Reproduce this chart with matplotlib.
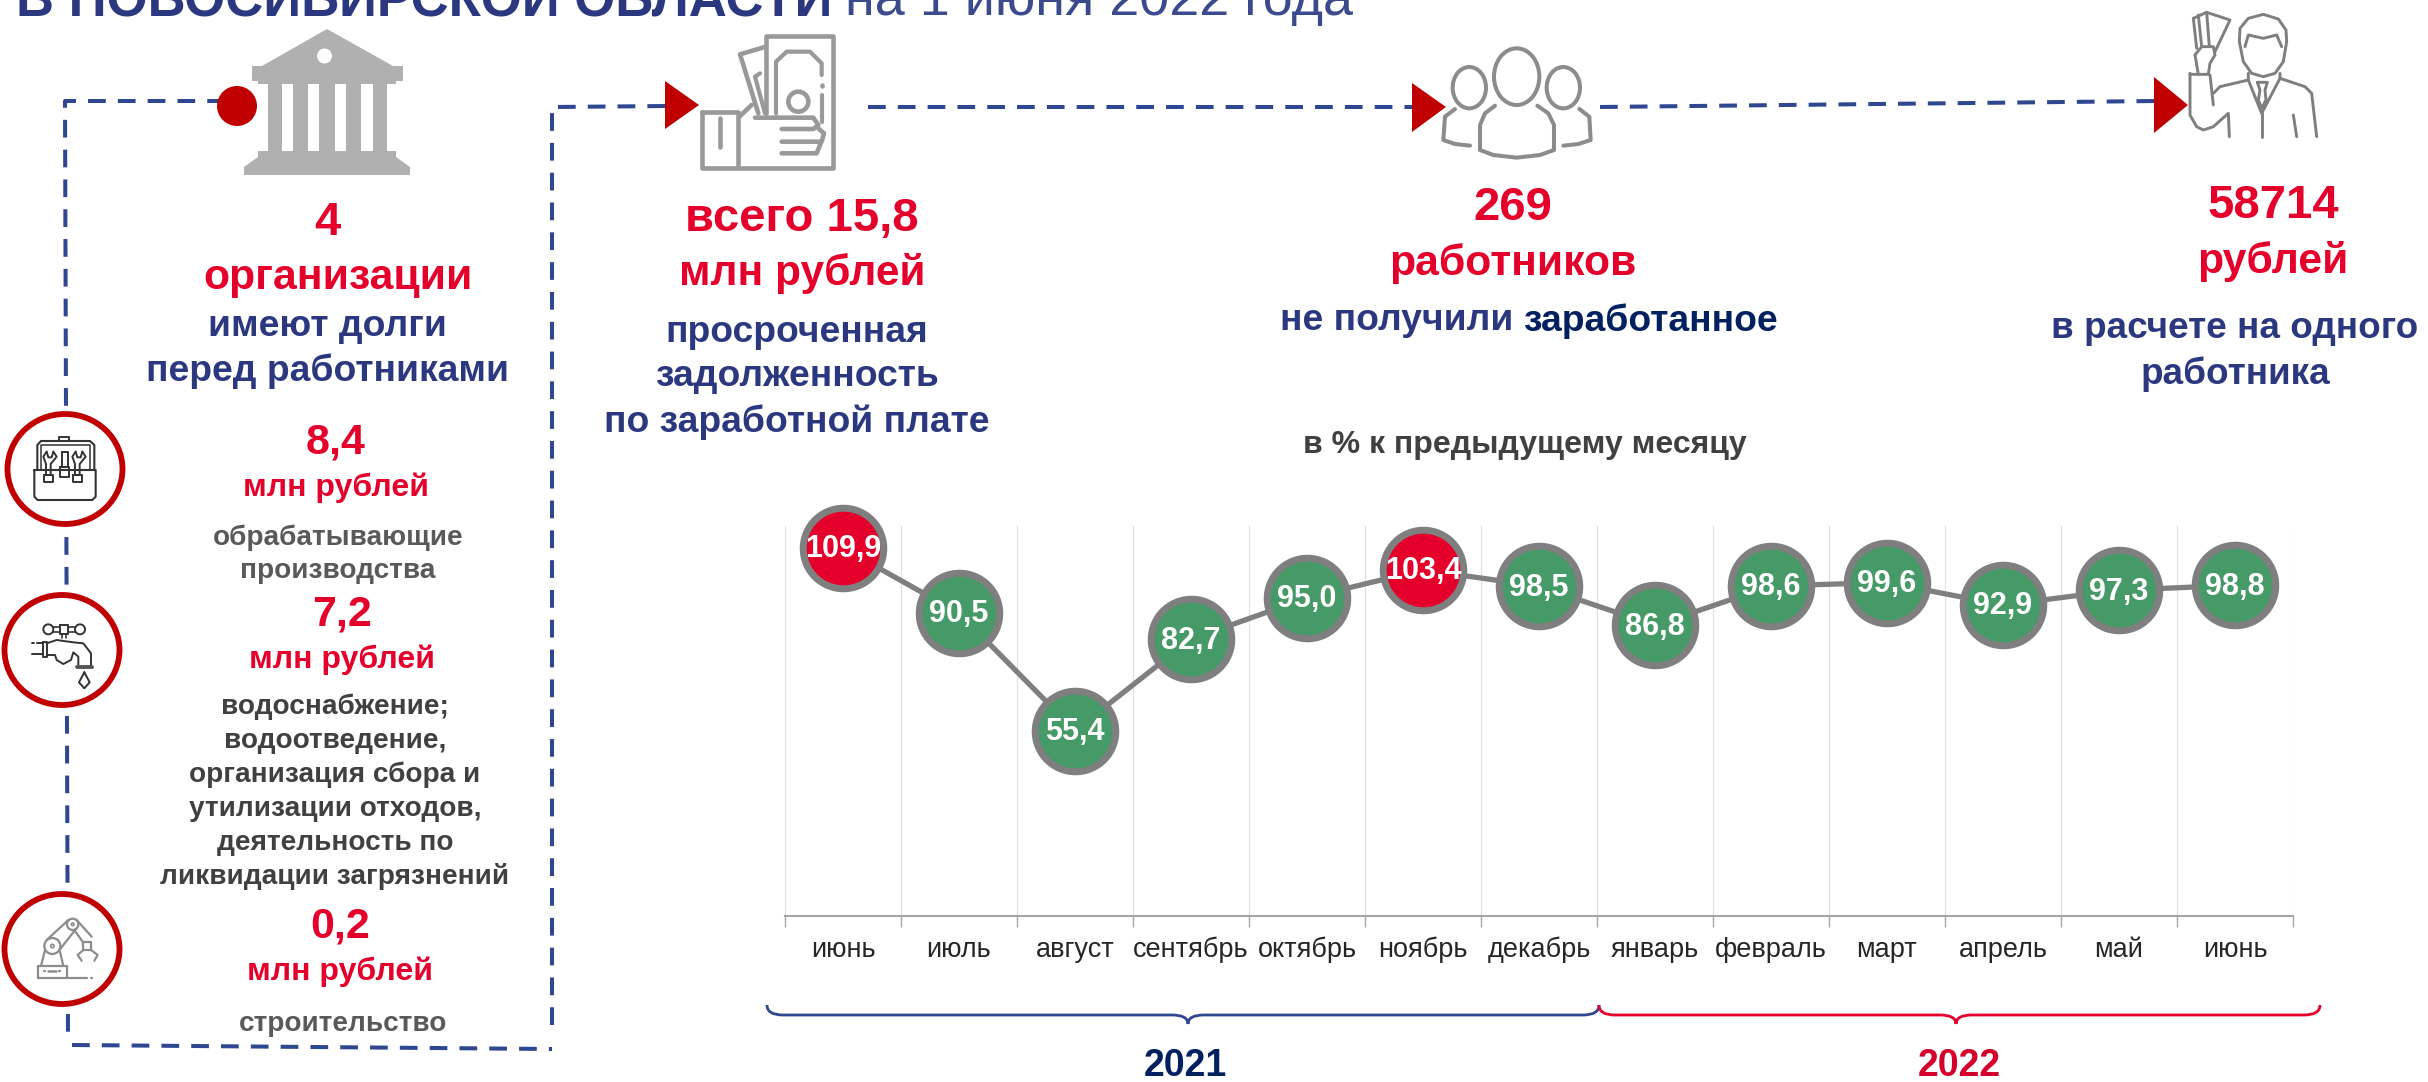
import matplotlib
matplotlib.use('Agg')
import matplotlib.pyplot as plt
from matplotlib.patches import Ellipse, Polygon, Rectangle, PathPatch
from matplotlib.path import Path

plt.rcParams['font.family'] = ['Liberation Sans', 'DejaVu Sans']

months = ['июнь', 'июль', 'август', 'сентябрь', 'октябрь', 'ноябрь', 'декабрь',
          'январь', 'февраль', 'март', 'апрель', 'май', 'июнь']
values = [109.9, 90.5, 55.4, 82.7, 95.0, 103.4, 98.5, 86.8, 98.6, 99.6, 92.9, 97.3, 98.8]
years = ['2021', '2022']

RED = '#e4002b'
DARKRED = '#c00000'
GREEN = '#459a68'
BLUE = '#2b3880'
NAVY = '#002060'
DASH = '#2f4690'
GREY = '#7f7f7f'
ICON = '#8c8c8c'
K = '#333333'

W, H = 2428, 1082
fig = plt.figure(figsize=(W / 100, H / 100), dpi=100)

# whole-figure layer in pixels for the infographic parts
bg = fig.add_axes([0, 0, 1, 1])
bg.set_xlim(0, W)
bg.set_ylim(H, 0)
bg.axis('off')


def dashed(pts):
    bg.plot(*zip(*pts), color=DASH, lw=2.9, ls=(0, (4.4, 3)), zorder=1)


def stroke(org, pts, color=ICON, lw=2.6, closed=False):
    # icon outlines were read at 3x from a crop starting at org
    pts = [(org[0] + a / 3, org[1] + b / 3) for a, b in pts]
    if closed:
        pts.append(pts[0])
    bg.plot(*zip(*pts), color=color, lw=lw, solid_joinstyle='round',
            solid_capstyle='round', zorder=3)


def oval(org, x, y, rx, ry, color=ICON, lw=2.6, fill='none'):
    bg.add_patch(Ellipse((org[0] + x / 3, org[1] + y / 3), 2 * rx / 3, 2 * ry / 3,
                         fc=fill, ec=color, lw=lw, zorder=3))


def label(x, y, s, size, color, weight='bold', ha='center'):
    return bg.text(x, y + 3, s, fontsize=size, color=color, fontweight=weight,
                   ha=ha, va='center')


# connector lines
dashed([(225, 101), (65, 101), (68, 1040)])
dashed([(72, 1045), (552, 1049)])
dashed([(552, 1025), (552, 107), (668, 106)])
dashed([(868, 107), (1414, 107)])
dashed([(1600, 107), (2156, 101)])
bg.add_patch(Ellipse((237, 106), 40, 40, fc=DARKRED, ec='none', zorder=4))
for tri in ([(665, 81), (699, 105), (665, 129)],
            [(1412, 83), (1446, 107), (1412, 132)],
            [(2154, 77), (2188, 105), (2154, 133)]):
    bg.add_patch(Polygon(tri, fc=DARKRED, ec='none', zorder=4))

# bank icon
BANK = '#b0b0b0'
bg.add_patch(Polygon([(327, 29), (393, 66), (403, 66), (403, 81), (396, 81), (396, 84), (258, 84),
                      (258, 81), (252, 81), (252, 66), (262, 66)], fc=BANK, ec='none', zorder=3))
bg.add_patch(Ellipse((324.5, 56), 15, 15, fc='white', ec='none', zorder=4))
for x0, x1 in ((268, 282), (293, 308), (319, 335), (346, 361), (373, 387)):
    bg.add_patch(Rectangle((x0, 84), x1 - x0, 68, fc=BANK, ec='none', zorder=3))
bg.add_patch(Polygon([(258, 151), (396, 151), (396, 157), (410, 167), (410, 175), (244, 175),
                      (244, 167), (258, 157)], fc=BANK, ec='none', zorder=3))

# money in hand icon
o = (690, 25)
c = '#999999'
stroke(o, [(228, 265), (228, 33), (430, 33), (430, 428), (150, 428)], c, 3.3)
stroke(o, [(258, 265), (258, 110), (290, 80), (360, 80), (395, 115), (395, 150)], c, 3)
stroke(o, [(395, 180), (395, 182)], c, 3.3)
stroke(o, [(395, 210), (395, 290)], c, 3)
stroke(o, [(228, 65), (150, 88), (205, 265)], c, 3.3)
stroke(o, [(210, 145), (195, 155), (225, 265)], c, 3)
oval(o, 325, 230, 30, 30, c, 3.3)
stroke(o, [(35, 262), (145, 262), (145, 428), (35, 428)], c, 3.3, closed=True)
stroke(o, [(90, 280), (90, 365)], c, 3.3)
stroke(o, [(90, 395), (90, 397)], c, 3.5)
stroke(o, [(148, 275), (185, 240)], c, 3.3)
stroke(o, [(195, 278), (370, 278), (385, 300), (370, 312), (275, 312)], c, 3.3)
stroke(o, [(275, 350), (395, 350), (402, 325), (385, 310)], c, 3.3)
stroke(o, [(275, 385), (380, 385), (392, 355)], c, 3.3)

# three people icon
o = (1430, 35)
oval(o, 260, 125, 68, 85, lw=2.9)
oval(o, 118, 158, 50, 62, lw=2.9)
oval(o, 400, 158, 50, 62, lw=2.9)
stroke(o, [(195, 212), (165, 235), (150, 270), (150, 345), (190, 360), (260, 368),
           (330, 360), (372, 345), (372, 270), (355, 235), (322, 212)], lw=2.9)
stroke(o, [(75, 222), (45, 245), (40, 315), (75, 327), (120, 332)], lw=2.9)
stroke(o, [(448, 222), (478, 245), (482, 315), (445, 327), (400, 332)], lw=2.9)

# man with banknotes icon
o = (2180, 5)
stroke(o, [(178, 110), (180, 70), (205, 40), (250, 28), (295, 42), (318, 75), (320, 110)], GREY, 2.1)
stroke(o, [(178, 110), (190, 170), (215, 205), (250, 215), (285, 205), (310, 170), (320, 110)], GREY, 2.1)
stroke(o, [(195, 125), (205, 90), (250, 100), (290, 90), (305, 125)], GREY, 2.1)
stroke(o, [(205, 205), (205, 225), (120, 245), (100, 265)], GREY, 2.1)
stroke(o, [(300, 205), (300, 220), (375, 245), (395, 265), (410, 395)], GREY, 2.1)
stroke(o, [(30, 205), (30, 330), (50, 365), (70, 375), (100, 365), (145, 325), (148, 395)], GREY, 2.1)
stroke(o, [(90, 210), (100, 300)], GREY, 2.1)
stroke(o, [(45, 150), (65, 125), (100, 125), (105, 150), (90, 175), (85, 208), (30, 208)], GREY, 2.1)
stroke(o, [(45, 150), (55, 208)], GREY, 2.1)
stroke(o, [(40, 40), (50, 130)], GREY, 2.1)
stroke(o, [(55, 30), (65, 125)], GREY, 2.1)
stroke(o, [(40, 40), (80, 22), (150, 45), (105, 140)], GREY, 2.1)
stroke(o, [(80, 22), (88, 125)], GREY, 2.1)
stroke(o, [(205, 225), (245, 325), (300, 220)], GREY, 2.1)
stroke(o, [(245, 325), (245, 395)], GREY, 2.1)
stroke(o, [(232, 232), (262, 232), (255, 255), (258, 285), (245, 310), (235, 285), (240, 255)], GREY, 2.1, closed=True)
stroke(o, [(340, 330), (350, 395)], GREY, 2.1)

# round icons on the left
for cx, cy in ((65, 469), (62, 650), (62, 949)):
    bg.add_patch(Ellipse((cx, cy), 115, 110, fc='white', ec=DARKRED, lw=4.2, zorder=2))

# toolbox
o = (5, 410)
stroke(o, [(88, 180), (272, 180), (272, 260), (262, 270), (98, 270), (88, 260)], K, 1.5, closed=True)
stroke(o, [(97, 180), (97, 105), (108, 93), (255, 93), (268, 105), (268, 180)], K, 1.5)
stroke(o, [(108, 180), (108, 105), (255, 105), (255, 180)], K, 1.1)
stroke(o, [(163, 93), (163, 82), (193, 82), (193, 93)], K, 1.4)
for xc in (135, 222):
    stroke(o, [(xc - 10, 125), (xc - 20, 140), (xc - 12, 162), (xc - 12, 195), (xc + 2, 195),
               (xc + 2, 162), (xc + 20, 140), (xc + 10, 125)], K, 1.4)
    stroke(o, [(xc - 10, 125), (xc - 5, 142), (xc + 5, 142), (xc + 10, 125)], K, 1.4)
    stroke(o, [(xc - 18, 195), (xc + 8, 195), (xc + 8, 215), (xc - 18, 215)], K, 1.4, closed=True)
stroke(o, [(172, 125), (188, 125), (188, 170), (172, 170)], K, 1.4, closed=True)
stroke(o, [(165, 170), (193, 170), (193, 200), (165, 200)], K, 1.4, closed=True)

# tap
o = (5, 595)
oval(o, 130, 103, 15, 15, K, 1.4)
oval(o, 225, 103, 15, 15, K, 1.4)
stroke(o, [(165, 90), (190, 90), (190, 118), (165, 118)], K, 1.4, closed=True)
stroke(o, [(145, 97), (165, 97)], K, 1.2)
stroke(o, [(145, 110), (165, 110)], K, 1.2)
stroke(o, [(190, 97), (210, 97)], K, 1.2)
stroke(o, [(190, 110), (210, 110)], K, 1.2)
stroke(o, [(170, 118), (170, 130)], K, 1.2)
stroke(o, [(183, 118), (183, 130)], K, 1.2)
stroke(o, [(125, 145), (155, 135), (205, 142), (235, 145), (258, 175), (258, 210)], K, 1.4)
stroke(o, [(220, 210), (220, 185), (205, 172), (198, 195), (175, 207), (155, 195), (150, 180), (125, 180)], K, 1.4)
stroke(o, [(113, 140), (125, 140), (125, 185), (113, 185)], K, 1.4, closed=True)
stroke(o, [(80, 178), (113, 178)], K, 1.4)
stroke(o, [(80, 145), (88, 145)], K, 1.4)
stroke(o, [(96, 145), (113, 145)], K, 1.4)
stroke(o, [(215, 215), (260, 215)], '#555555', 2.8)
stroke(o, [(238, 232), (222, 262), (238, 280), (254, 262)], K, 1.4, closed=True)

# robot arm
o = (5, 890)
stroke(o, [(98, 228), (185, 228), (185, 265), (98, 265)], ICON, 1.6, closed=True)
stroke(o, [(185, 264), (245, 264)], ICON, 1.6)
stroke(o, [(258, 264), (261, 264)], ICON, 1.6)
stroke(o, [(116, 243), (119, 243)], ICON, 1.6)
stroke(o, [(163, 243), (166, 243)], ICON, 1.6)
stroke(o, [(130, 243), (152, 243)], ICON, 1.8)
stroke(o, [(108, 228), (120, 180)], ICON, 1.6)
stroke(o, [(175, 228), (165, 185)], ICON, 1.6)
oval(o, 142, 168, 24, 24, ICON, 1.6)
oval(o, 142, 168, 5, 5, ICON, 1.2)
oval(o, 203, 103, 17, 17, ICON, 1.6)
oval(o, 203, 103, 4, 4, ICON, 1.2)
stroke(o, [(125, 150), (190, 90)], ICON, 1.6)
stroke(o, [(165, 178), (212, 118)], ICON, 1.6)
stroke(o, [(215, 90), (260, 140)], ICON, 1.6)
stroke(o, [(208, 120), (235, 158)], ICON, 1.6)
stroke(o, [(235, 155), (258, 155), (258, 180), (235, 180)], ICON, 1.6, closed=True)
stroke(o, [(235, 180), (218, 195), (230, 212)], ICON, 1.6)
stroke(o, [(258, 180), (278, 195), (268, 212)], ICON, 1.6)

# title, cut by the top edge in the reference too
label(16, -1, 'В НОВОСИБИРСКОЙ ОБЛАСТИ', 38, BLUE, ha='left')
label(845, -2, 'на 1 июня 2022 года', 38.8, '#3a4a8c', weight='normal', ha='left')

# headline numbers
label(327, 220, '4', 34, RED)
label(338, 275, 'организации', 30.8, RED)
label(327, 323, 'имеют долги', 26.8, BLUE)
label(327, 368, 'перед работниками', 26.8, BLUE)

label(802, 216, 'всего 15,8', 34, RED)
label(802, 271, 'млн рублей', 30.5, RED)
label(797, 329, 'просроченная', 26.8, BLUE)
label(797, 374, 'задолженность', 26.8, BLUE)
label(797, 419, 'по заработной плате', 26.8, BLUE)

label(1513, 205, '269', 34, RED)
label(1513, 261, 'работников', 30.7, RED)
label(1397, 318, 'не получили', 26.8, BLUE)
label(1650, 318, 'заработанное', 26.8, NAVY)

label(2273, 203, '58714', 34, RED)
label(2273, 259, 'рублей', 30.7, RED)
label(2235, 326, 'в расчете на одного', 26.6, BLUE)
label(2235, 371, 'работника', 26.6, BLUE)

label(1525, 442, 'в % к предыдущему месяцу', 23, '#404040')

# sector breakdown
label(336, 439, '8,4', 31, RED)
label(336, 485, 'млн рублей', 23, RED)
label(338, 535, 'обрабатывающие', 20.2, '#595959')
label(338, 568, 'производства', 20.2, '#595959')

label(342, 612, '7,2', 31, RED)
label(342, 657, 'млн рублей', 23, RED)
sector2 = ['водоснабжение;', 'водоотведение,', 'организация сбора и',
           'утилизации отходов,', 'деятельность по', 'ликвидации загрязнений']
for i, s in enumerate(sector2):
    label(335, 704 + i * 34, s, 20.2, '#404040')

label(340, 924, '0,2', 31, RED)
label(340, 969, 'млн рублей', 23, RED)
label(343, 1021, 'строительство', 20.2, '#595959')


def brace(x0, xm, x1, color):
    y0, y1, tip = 1005, 1015, 1024
    verts = [(x0, y0), (x0, y1), (x0 + 16, y1), (xm - 16, y1), (xm, y1), (xm, tip),
             (xm, y1), (xm + 16, y1), (x1 - 16, y1), (x1, y1), (x1, y0)]
    codes = [Path.MOVETO, Path.CURVE3, Path.CURVE3, Path.LINETO, Path.CURVE3, Path.CURVE3,
             Path.CURVE3, Path.CURVE3, Path.LINETO, Path.CURVE3, Path.CURVE3]
    bg.add_patch(PathPatch(Path(verts, codes), fc='none', ec=color, lw=2, zorder=3))


brace(767, 1188, 1599, DASH)
brace(1599, 1956, 2320, RED)
label(1185, 1063, years[0], 27, NAVY)
label(1959, 1063, years[1], 27, '#d4002b')

# the line chart itself
ax = fig.add_axes([785 / W, 1 - 916 / H, (2293 - 785) / W, 390 / H])
ax.patch.set_alpha(0)
x = [i + 0.5 for i in range(len(values))]
ax.plot(x, values, color=GREY, lw=3.8, zorder=2)
for xi, v in zip(x, values):
    ax.plot(xi, v, 'o', ms=58, mfc=RED if v > 100 else GREEN, mec=GREY, mew=5,
            zorder=3, clip_on=False)
    ax.annotate(f'{v:.1f}'.replace('.', ','), (xi, v), xytext=(0, -1), textcoords='offset points',
                color='white', fontsize=22, fontweight='bold', ha='center', va='center', zorder=4)
ax.set_xlim(0, len(values))
ax.set_ylim(0, 116.5)
ax.set_xticks(range(len(values) + 1))
ax.set_xticklabels([])
ax.set_xticks(x, minor=True)
ax.set_xticklabels(months, minor=True, fontsize=19.5, color='#262626')
ax.tick_params(axis='x', which='major', length=8, width=1, color='#a6a6a6')
ax.tick_params(axis='x', which='minor', length=0, pad=15)
ax.set_yticks([])
ax.grid(axis='x', which='major', color='#dedede', lw=0.8)
ax.set_axisbelow(True)
for side in ('top', 'left', 'right'):
    ax.spines[side].set_visible(False)
ax.spines['bottom'].set_color('#a6a6a6')
ax.spines['bottom'].set_linewidth(1.5)

fig.savefig('out.png', dpi=100)
